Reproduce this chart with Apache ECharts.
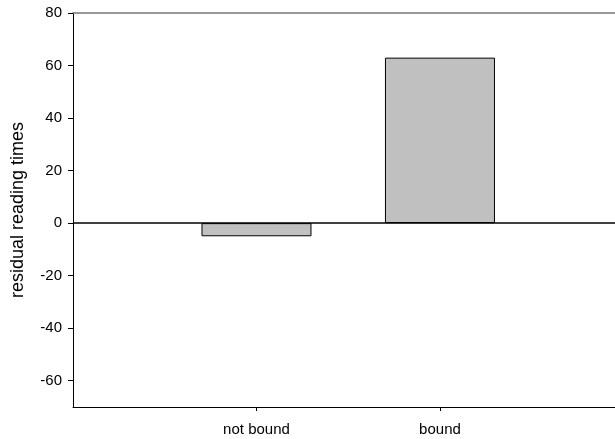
<!DOCTYPE html>
<html>
<head>
<meta charset="utf-8">
<script src="https://cdn.jsdelivr.net/npm/echarts@6/dist/echarts.min.js"></script>
<style>html,body{margin:0;padding:0;background:#fff;}#c{width:615px;height:439px;}</style>
</head>
<body>
<div id="c"></div>
<script>
var categories = ['not bound', 'bound'];
var positions = [1, 2];
var values = [-5, 63];
var yTicks = [-60, -40, -20, 0, 20, 40, 60, 80];

var chart = echarts.init(document.getElementById('c'), null, {renderer: 'canvas'});
var font = 'Liberation Sans, Arial, sans-serif';
chart.setOption({
  animation: false,
  grid: {left: 73, top: 13, right: 0, bottom: 32},
  xAxis: [{
    type: 'value', min: 0, max: 2.954, position: 'bottom',
    splitLine: {show: false},
    axisLine: {show: true, onZero: false, lineStyle: {color: '#000', width: 1}},
    axisTick: {show: true, length: 4, lineStyle: {color: '#000'}, customValues: positions},
    axisLabel: {show: true, customValues: positions, margin: 15, fontSize: 15, color: '#000', fontFamily: font,
      formatter: function (v) { var i = positions.indexOf(v); return i >= 0 ? categories[i] : ''; }}
  }, {
    type: 'value', min: 0, max: 2.954, position: 'top',
    splitLine: {show: false},
    axisLine: {show: true, onZero: false, lineStyle: {color: '#777', width: 1.5}},
    axisTick: {show: false}, axisLabel: {show: false}
  }],
  yAxis: {
    type: 'value', min: -70, max: 80,
    splitLine: {show: false},
    name: 'residual reading times', nameLocation: 'middle', nameGap: 46,
    nameTextStyle: {fontSize: 18, color: '#000', fontFamily: font},
    axisLine: {show: true, lineStyle: {color: '#000', width: 1}},
    axisTick: {show: true, length: 5, lineStyle: {color: '#000'}, customValues: yTicks},
    axisLabel: {show: true, customValues: yTicks, margin: 11, fontSize: 15, color: '#000', fontFamily: font}
  },
  series: [{
    type: 'bar',
    data: positions.map(function (p, i) { return [p, values[i]]; }),
    barWidth: 110,
    itemStyle: {color: '#c0c0c0', borderColor: '#000', borderWidth: 1},
    markLine: {
      silent: true, symbol: 'none', label: {show: false},
      lineStyle: {color: '#000', width: 1.5, type: 'solid'},
      data: [{yAxis: 0}]
    }
  }]
});
</script>
</body>
</html>
